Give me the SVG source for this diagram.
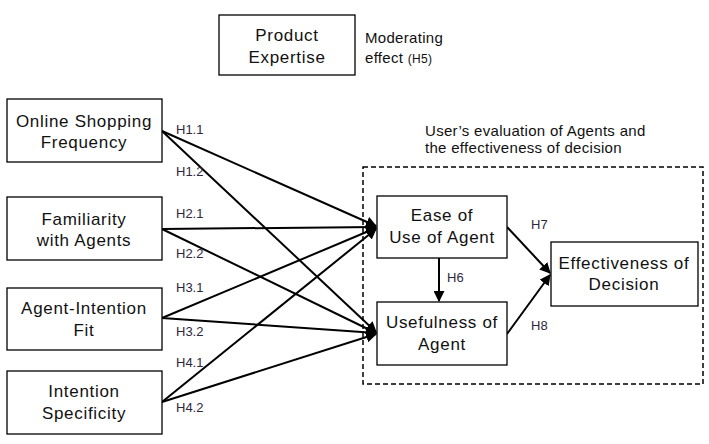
<svg xmlns="http://www.w3.org/2000/svg" width="709" height="444" viewBox="0 0 709 444">
<defs>
<marker id="ah" viewBox="0 0 10 10" refX="9" refY="5" markerWidth="5.5" markerHeight="5.5" orient="auto" markerUnits="strokeWidth">
<path d="M0,0 L10,5 L0,10 z" fill="#000"/>
</marker>
</defs>
<style>
.box{fill:#fff;stroke:#000;stroke-width:1.3}
.nt{font-family:"Liberation Sans",Arial,sans-serif;font-size:17px;letter-spacing:0.7px;fill:#111;text-anchor:middle}
.lb{font-family:"Liberation Sans",Arial,sans-serif;font-size:13px;fill:#2e2640}
.tx{font-family:"Liberation Sans",Arial,sans-serif;font-size:15px;letter-spacing:0.3px;fill:#111}
.cn{stroke:#000;stroke-width:2;fill:none;marker-end:url(#ah)}
</style>
<rect width="709" height="444" fill="#fff"/>
<rect x="363" y="167" width="340" height="217" fill="none" stroke="#000" stroke-width="1.5" stroke-dasharray="5,3"/>
<text class="tx" x="425" y="136">User’s evaluation of Agents and</text>
<text class="tx" x="425" y="153">the effectiveness of decision</text>
<g id="connectors">
<line class="cn" x1="162" y1="131" x2="376" y2="226"/>
<line class="cn" x1="162" y1="131" x2="376" y2="332"/>
<line class="cn" x1="162" y1="229" x2="376" y2="227"/>
<line class="cn" x1="162" y1="229" x2="376" y2="333"/>
<line class="cn" x1="162" y1="318" x2="376" y2="228"/>
<line class="cn" x1="162" y1="318" x2="376" y2="333"/>
<line class="cn" x1="162" y1="402" x2="376" y2="229"/>
<line class="cn" x1="162" y1="402" x2="376" y2="334"/>
<line class="cn" x1="439" y1="258" x2="439" y2="301"/>
<line class="cn" x1="507" y1="227" x2="550" y2="273"/>
<line class="cn" x1="507" y1="334" x2="550" y2="275"/>
</g>
<g id="labels">
<text class="lb" x="176" y="134">H1.1</text>
<text class="lb" x="176" y="176">H1.2</text>
<text class="lb" x="176" y="218">H2.1</text>
<text class="lb" x="176" y="258">H2.2</text>
<text class="lb" x="176" y="292">H3.1</text>
<text class="lb" x="176" y="336">H3.2</text>
<text class="lb" x="176" y="367">H4.1</text>
<text class="lb" x="176" y="412">H4.2</text>
<text class="lb" x="447" y="282">H6</text>
<text class="lb" x="531" y="229">H7</text>
<text class="lb" x="531" y="330">H8</text>
</g>
<g id="product-expertise">
<rect class="box" x="219" y="15" width="136" height="60"/>
<text class="nt" x="287" y="41">Product</text>
<text class="nt" x="287" y="63">Expertise</text>
</g>
<g id="moderating">
<text class="tx" x="365" y="43">Moderating</text>
<text class="tx" x="365" y="63">effect <tspan font-size="12">(H5)</tspan></text>
</g>
<g id="online-shopping">
<rect class="box" x="7" y="99" width="155" height="63"/>
<text class="nt" x="84" y="127">Online Shopping</text>
<text class="nt" x="84" y="148">Frequency</text>
</g>
<g id="familiarity">
<rect class="box" x="7" y="197" width="155" height="63"/>
<text class="nt" x="84" y="225">Familiarity</text>
<text class="nt" x="84" y="246">with Agents</text>
</g>
<g id="agent-intention">
<rect class="box" x="7" y="288" width="155" height="62"/>
<text class="nt" x="84" y="314">Agent-Intention</text>
<text class="nt" x="84" y="336">Fit</text>
</g>
<g id="intention-specificity">
<rect class="box" x="7" y="371" width="155" height="63"/>
<text class="nt" x="84" y="397">Intention</text>
<text class="nt" x="84" y="419">Specificity</text>
</g>
<g id="ease-of-use">
<rect class="box" x="377" y="196" width="130" height="62"/>
<text class="nt" x="442" y="221">Ease of</text>
<text class="nt" x="442" y="243">Use of Agent</text>
</g>
<g id="usefulness">
<rect class="box" x="377" y="302" width="130" height="63"/>
<text class="nt" x="442" y="328">Usefulness of</text>
<text class="nt" x="442" y="350">Agent</text>
</g>
<g id="effectiveness">
<rect class="box" x="551" y="242" width="147" height="64"/>
<text class="nt" x="624" y="269">Effectiveness of</text>
<text class="nt" x="624" y="290">Decision</text>
</g>
</svg>
